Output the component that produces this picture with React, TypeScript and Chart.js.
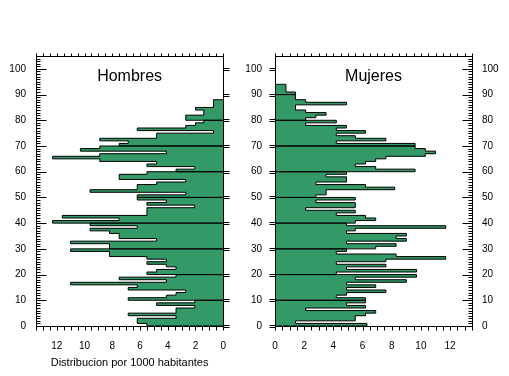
import React, { useEffect, useRef } from 'react';
import { Chart, registerables } from 'chart.js';

Chart.register(...registerables);

// ---- Data (per 1000 inhabitants, single years of age starting at 0) ----
const menValues = [
  5.5, 6.2, 6.2, 3.4, 6.85, 3.4, 3.4, 2.05, 4.8, 2.05,
  6.85, 4.1, 3.4, 2.7, 6.85, 6.2, 11.0, 4.1, 7.5, 3.4,
  5.5, 4.8, 3.4, 4.1, 5.5, 4.1, 5.5, 8.2, 8.2, 11.0,
  8.2, 8.2, 11.0, 4.8, 7.5, 7.5, 8.2, 9.6, 6.2, 9.6,
  12.3, 7.5, 11.6, 5.5, 5.5, 5.5, 2.05, 5.5, 4.1, 6.2,
  6.2, 2.7, 9.6, 6.2, 6.2, 4.8, 2.7, 7.5, 7.5, 5.5,
  3.4, 2.05, 5.5, 4.8, 8.9, 12.3, 8.9, 4.1, 10.3, 8.9,
  7.5, 6.85, 8.9, 4.8, 4.8, 0.7, 6.2, 2.7, 2.0, 1.4,
  2.7, 2.7, 1.4, 1.4, 2.0, 0.7, 0.7, 0.7,
];

const womenValues = [
  6.3, 1.4, 5.5, 5.5, 6.2, 6.9, 2.1, 6.2, 4.9, 6.2,
  6.2, 4.2, 4.9, 7.6, 4.9, 6.9, 4.9, 9.0, 5.5, 9.7,
  4.2, 9.7, 4.9, 7.6, 4.2, 7.6, 11.7, 8.3, 4.2, 4.9,
  6.9, 8.3, 4.9, 9.0, 8.3, 9.0, 4.9, 5.5, 11.7, 4.9,
  5.5, 6.9, 6.2, 4.2, 5.5, 2.1, 5.5, 5.5, 2.8, 5.5,
  2.8, 3.5, 3.5, 8.2, 6.2, 2.8, 4.9, 4.9, 3.5, 4.9,
  9.6, 6.9, 5.5, 6.2, 6.9, 7.6, 10.3, 11.0, 10.3, 9.6,
  9.6, 4.2, 7.6, 5.5, 4.2, 6.2, 4.2, 4.9, 2.1, 4.2,
  2.1, 2.8, 3.5, 2.1, 1.4, 1.4, 4.9, 2.1, 1.4, 1.4,
  1.4, 0.75, 0.75, 0.75,
];

const panelTitles = ['Hombres', 'Mujeres'];
const axisTitle = 'Distribucion por 1000 habitantes';
const xTickStep = 2;
const yTickStep = 10;
const X_MAX = 13.5;
const Y_MAX = 105;
const X_MINOR = 0.5;
const GREEN = '#339966';
const FONT = '"Liberation Sans", Arial, sans-serif';

Chart.defaults.font.family = FONT;
Chart.defaults.color = '#000';

// One stepped polygon per decade of age (ages 0-9, 10-19, ...)
function decadePolygons(values: number[]) {
  const out: { x: number; y: number }[][] = [];
  for (let start = 0; start < values.length; start += 10) {
    const end = Math.min(start + 10, values.length);
    const pts = [{ x: 0, y: start }];
    for (let a = start; a < end; a++) {
      pts.push({ x: values[a], y: a });
      pts.push({ x: values[a], y: a + 1 });
    }
    pts.push({ x: 0, y: end });
    out.push(pts);
  }
  return out;
}

function buildDatasets(values: number[]) {
  return decadePolygons(values).map((pts, i) => ({
    label: 'd' + i,
    data: pts,
    fill: 'origin',
    backgroundColor: GREEN,
    borderColor: '#000',
    borderWidth: 1,
    pointRadius: 0,
    pointHoverRadius: 0,
    tension: 0,
    borderJoinStyle: 'miter',
    borderCapStyle: 'butt',
  }));
}

function makeFramePlugin(title: string, outer: 'left' | 'right') {
  return {
    id: 'frameTicks',
    afterDraw(chart: any) {
      const { ctx, chartArea: ca } = chart;
      const xs = chart.scales.x;
      const ys = chart.scales.y;
      ctx.save();
      ctx.strokeStyle = '#000';
      ctx.lineWidth = 1;
      const L = Math.round(ca.left) + 0.5;
      const R = Math.round(ca.right) + 0.5;
      const T = Math.round(ca.top) + 0.5;
      const B = Math.round(ca.bottom) + 0.5;
      ctx.beginPath();
      ctx.rect(L, T, R - L, B - T);
      for (let v = 0; v <= X_MAX + 1e-9; v += X_MINOR) {
        const px = Math.round(xs.getPixelForValue(v)) + 0.5;
        ctx.moveTo(px, T);
        ctx.lineTo(px, T - 3);
        ctx.moveTo(px, B);
        ctx.lineTo(px, B + 4);
      }
      const outerX = outer === 'left' ? L : R;
      const dir = outer === 'left' ? 1 : -1;
      const innerX = outer === 'left' ? R : L;
      const odir = outer === 'left' ? 1 : -1;
      for (let a = 0; a <= Y_MAX; a++) {
        const py = Math.round(ys.getPixelForValue(a)) + 0.5;
        const major = a % 10 === 0 && a <= 100;
        ctx.moveTo(outerX, py);
        ctx.lineTo(outerX + dir * (major ? 10 : 4), py);
        if (major) {
          ctx.moveTo(innerX, py - 1);
          ctx.lineTo(innerX + odir * 6, py - 1);
          ctx.moveTo(innerX, py + 1);
          ctx.lineTo(innerX + odir * 6, py + 1);
        }
      }
      ctx.stroke();
      ctx.fillStyle = '#000';
      ctx.font = '16px ' + FONT;
      ctx.textAlign = 'center';
      ctx.textBaseline = 'alphabetic';
      ctx.fillText(title, (ca.left + ca.right) / 2, 81);
      ctx.restore();
    },
  };
}

const tickFont = { size: 10, family: FONT };

function baseOptions(padding: any) {
  return {
    responsive: false,
    maintainAspectRatio: false,
    animation: false,
    devicePixelRatio: 1,
    indexAxis: 'y',
    events: [],
    layout: { padding },
    plugins: {
      legend: { display: false },
      tooltip: { enabled: false },
      filler: { drawTime: 'beforeDatasetsDraw' },
    },
  };
}

export default function App() {
  const leftRef = useRef<HTMLCanvasElement | null>(null);
  const rightRef = useRef<HTMLCanvasElement | null>(null);

  useEffect(() => {
    const left = new Chart(leftRef.current as HTMLCanvasElement, {
      type: 'line',
      data: { datasets: buildDatasets(menValues) as any },
      options: {
        ...(baseOptions({ top: 56, right: 7, left: 0, bottom: 0 }) as any),
        scales: {
          x: {
            type: 'linear',
            reverse: true,
            min: 0,
            max: X_MAX,
            ticks: { stepSize: xTickStep, includeBounds: false, padding: 14, font: tickFont, color: '#000', maxRotation: 0, autoSkip: false },
            grid: { display: false, drawTicks: false },
            border: { display: false },
            title: { display: true, text: axisTitle, font: { size: 11, family: FONT }, color: '#000', padding: { top: 0, bottom: 6 } },
            afterFit: (s: any) => { s.height = 50; },
          },
          y: {
            type: 'linear',
            min: 0,
            max: Y_MAX,
            ticks: { stepSize: yTickStep, includeBounds: false, padding: 10, font: tickFont, color: '#000', autoSkip: false },
            grid: { display: false, drawTicks: false },
            border: { display: false },
            afterFit: (s: any) => { s.width = 36; },
          },
        },
      },
      plugins: [makeFramePlugin(panelTitles[0], 'left')],
    } as any);

    const right = new Chart(rightRef.current as HTMLCanvasElement, {
      type: 'line',
      data: { datasets: buildDatasets(womenValues) as any },
      options: {
        ...(baseOptions({ top: 56, right: 0, left: 0, bottom: 0 }) as any),
        scales: {
          x: {
            type: 'linear',
            min: 0,
            max: X_MAX,
            ticks: { stepSize: xTickStep, includeBounds: false, padding: 14, font: tickFont, color: '#000', maxRotation: 0, autoSkip: false },
            grid: { display: false, drawTicks: false },
            border: { display: false },
            afterFit: (s: any) => { s.height = 50; },
          },
          y: {
            type: 'linear',
            position: 'left',
            min: 0,
            max: Y_MAX,
            ticks: { stepSize: yTickStep, includeBounds: false, padding: 13, font: tickFont, color: '#000', autoSkip: false },
            grid: { display: false, drawTicks: false },
            border: { display: false },
            afterFit: (s: any) => { s.width = 35; },
          },
          y2: {
            type: 'linear',
            position: 'right',
            min: 0,
            max: Y_MAX,
            ticks: { stepSize: yTickStep, includeBounds: false, padding: 10, font: tickFont, color: '#000', autoSkip: false },
            grid: { display: false, drawTicks: false },
            border: { display: false },
            afterFit: (s: any) => { s.width = 37; },
          },
        },
      },
      plugins: [makeFramePlugin(panelTitles[1], 'right')],
    } as any);

    return () => {
      left.destroy();
      right.destroy();
    };
  }, []);

  return (
    <div style={{ position: 'fixed', left: 0, top: 0, width: 509, height: 376, background: '#fff' }}>
      <canvas ref={leftRef} width={240} height={376} style={{ position: 'absolute', left: 0, top: 0, width: 240, height: 376 }} />
      <canvas ref={rightRef} width={269} height={376} style={{ position: 'absolute', left: 240, top: 0, width: 269, height: 376 }} />
    </div>
  );
}
